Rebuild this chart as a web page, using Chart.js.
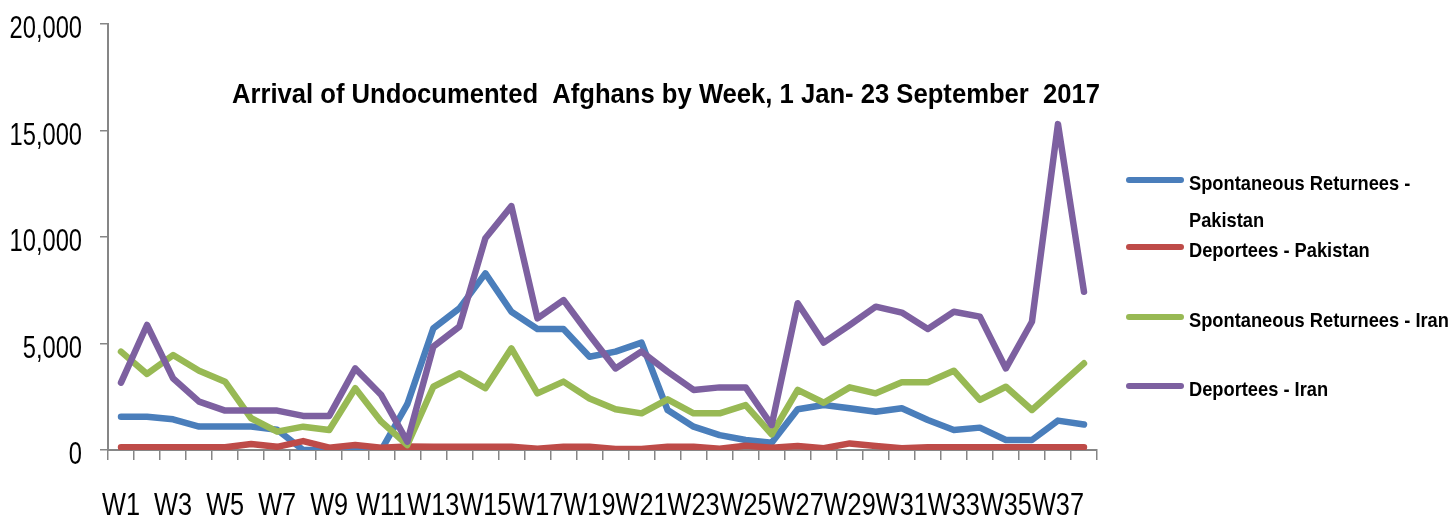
<!DOCTYPE html>
<html>
<head>
<meta charset="utf-8">
<script src="https://cdn.jsdelivr.net/npm/chart.js@4.4.1/dist/chart.umd.min.js"></script>
<style>
  html, body { margin: 0; padding: 0; background: #ffffff; }
  #wrap { width: 1456px; height: 519px; position: relative; }
</style>
</head>
<body>
<div id="wrap"><canvas id="c" width="1456" height="519"></canvas></div>
<script>
const weeks = ["W1","W2","W3","W4","W5","W6","W7","W8","W9","W10","W11","W12","W13","W14","W15","W16","W17","W18","W19","W20","W21","W22","W23","W24","W25","W26","W27","W28","W29","W30","W31","W32","W33","W34","W35","W36","W37","W38"];

const spontaneousPakistan = [1560,1560,1440,1100,1100,1100,950,0,0,0,0,2150,5710,6650,8290,6490,5680,5680,4380,4620,5040,1880,1095,700,470,340,1910,2110,1960,1800,1960,1410,940,1050,470,470,1380,1200];
const deporteesPakistan   = [125,125,125,125,125,280,150,420,110,230,110,170,150,150,150,150,60,150,150,50,50,150,150,60,200,110,190,80,310,190,80,125,125,125,125,125,125,125];
const spontaneousIran     = [4620,3570,4460,3720,3210,1490,860,1095,940,2900,1330,235,2970,3600,2900,4770,2660,3210,2420,1910,1720,2380,1720,1720,2110,740,2820,2220,2940,2660,3180,3180,3720,2350,2970,1880,2970,4070];
const deporteesIran       = [3160,5870,3360,2270,1850,1850,1850,1600,1600,3830,2580,390,4850,5790,9940,11450,6180,7040,5400,3830,4620,3680,2820,2940,2940,1170,6890,5040,5870,6730,6450,5680,6490,6260,3830,6020,15300,7430];

const seriesNames = ["Spontaneous Returnees - Pakistan","Deportees - Pakistan","Spontaneous Returnees - Iran","Deportees - Iran"];
const yTicks = [0,5000,10000,15000,20000];
const chartTitle = "Arrival of Undocumented  Afghans by Week, 1 Jan- 23 September  2017";

const colors = ["#4A7EBB","#BE4B48","#98B954","#7D60A0"];
const FONT = "'Liberation Sans', Arial, sans-serif";
const AXIS = "#868686";

function narrowText(ctx, text, x, y, font, sx, align) {
  ctx.save();
  ctx.font = font;
  ctx.textAlign = align;
  ctx.textBaseline = 'alphabetic';
  ctx.translate(x, y);
  ctx.scale(sx, 1);
  ctx.fillText(text, 0, 0);
  ctx.restore();
}

const decorPlugin = {
  id: 'customDecor',
  afterDraw(chart) {
    const ctx = chart.ctx;
    ctx.save();
    ctx.fillStyle = '#000';
    // y tick labels
    const ys = chart.scales.y;
    yTicks.forEach(v => {
      narrowText(ctx, v.toLocaleString('en-US'), 82, ys.getPixelForValue(v) + 14, "32px " + FONT, 0.74, 'right');
    });
    // x tick labels (every other week)
    const xs = chart.scales.x;
    weeks.forEach((w, i) => {
      if (i % 2 === 0) {
        narrowText(ctx, w, xs.getPixelForValue(i), 515, "32px " + FONT, 0.79, 'center');
      }
    });
    // title
    narrowText(ctx, chartTitle, 666, 103, "bold 28px " + FONT, 0.915, 'center');
    // legend
    const lineY = [180, 247, 317, 386];
    const textLines = [["Spontaneous Returnees -", "Pakistan"], [seriesNames[1]], [seriesNames[2]], [seriesNames[3]]];
    chart.data.datasets.forEach((ds, i) => {
      ctx.strokeStyle = ds.borderColor;
      ctx.lineWidth = 6;
      ctx.lineCap = 'round';
      ctx.beginPath();
      ctx.moveTo(1129, lineY[i]);
      ctx.lineTo(1181, lineY[i]);
      ctx.stroke();
      ctx.fillStyle = '#000';
      textLines[i].forEach((t, k) => {
        narrowText(ctx, t, 1189, lineY[i] + 10 + k * 37, "bold 21px " + FONT, 0.87, 'left');
      });
    });
    ctx.restore();
  }
};

const dataSets = [spontaneousPakistan, deporteesPakistan, spontaneousIran, deporteesIran];

new Chart(document.getElementById('c'), {
  type: 'line',
  data: {
    labels: weeks,
    datasets: dataSets.map((d, i) => ({
      label: seriesNames[i],
      data: d,
      borderColor: colors[i],
      backgroundColor: colors[i],
      borderWidth: 6.5,
      pointRadius: 0,
      pointHoverRadius: 0,
      tension: 0,
      borderCapStyle: 'round',
      borderJoinStyle: 'round',
      order: 4 - i
    }))
  },
  options: {
    responsive: false,
    animation: false,
    devicePixelRatio: 1,
    layout: { padding: { top: 24, right: 359, left: 0, bottom: 0 } },
    plugins: {
      legend: { display: false },
      title: { display: false },
      tooltip: { enabled: false }
    },
    scales: {
      x: {
        type: 'category',
        offset: true,
        grid: {
          display: true,
          offset: true,
          drawOnChartArea: false,
          drawTicks: true,
          tickLength: 10,
          color: AXIS,
          lineWidth: 1.5
        },
        border: { display: true, color: AXIS, width: 2 },
        ticks: { display: false, autoSkip: false },
        afterFit(scale) { scale.height = 69; }
      },
      y: {
        min: 0,
        max: 20000,
        afterBuildTicks(scale) { scale.ticks = yTicks.map(v => ({ value: v })); },
        grid: {
          display: true,
          drawOnChartArea: false,
          drawTicks: true,
          tickLength: 8,
          color: AXIS,
          lineWidth: 1.5
        },
        border: { display: true, color: AXIS, width: 2 },
        ticks: { display: false },
        afterFit(scale) { scale.width = 108; }
      }
    }
  },
  plugins: [decorPlugin]
});
</script>
</body>
</html>
